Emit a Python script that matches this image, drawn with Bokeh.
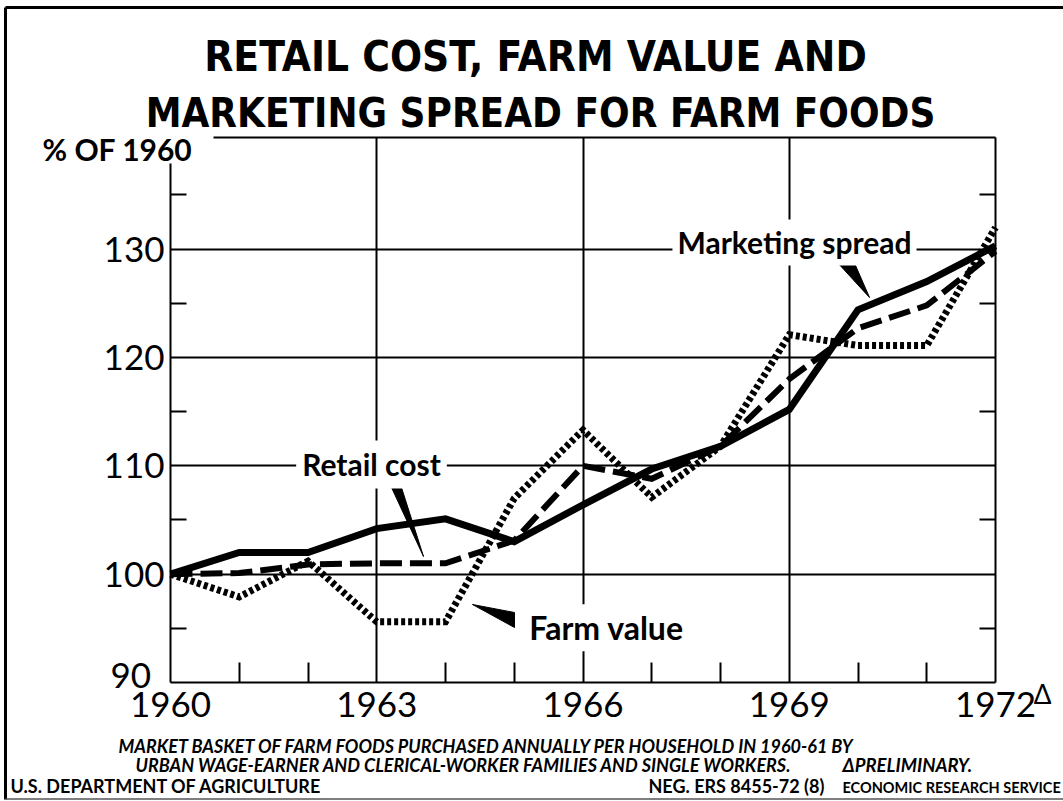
from bokeh.plotting import figure
from bokeh.models import Label, FixedTicker, LinearAxis, Range1d
from bokeh.embed import file_html
from bokeh.resources import INLINE

# ---- data ----
years = [1960, 1961, 1962, 1963, 1964, 1965, 1966, 1967, 1968, 1969, 1970, 1971, 1972]
marketing_spread = [100, 102, 102, 104.2, 105.1, 103, 106.4, 109.7, 111.8, 115.2, 124.4, 127, 130.3]
retail_cost = [100, 100.1, 100.9, 101, 101, 103.1, 110, 108.8, 111.8, 118, 122.7, 124.8, 129.8]
farm_value = [100, 97.9, 101.2, 95.6, 95.6, 107, 113.3, 107.1, 111.8, 122.1, 121.1, 121.1, 132]

x_major = [1960, 1963, 1966, 1969, 1972]
x_minor = [1961, 1962, 1964, 1965, 1967, 1968, 1970, 1971]
y_major = [90, 100, 110, 120, 130]
y_minor = [95, 105, 115, 125, 135]
x_grid = [1963, 1966, 1969]
y_grid = [100, 110, 120, 130]
X_MIN, X_MAX = 1960, 1972
Y_MIN, Y_MAX = 90, 140.3

W, H = 1063, 801
# pixel position of the chart box inside the canvas
PX_L, PX_R, PY_B, PY_T = 170, 995, 682, 137
SX = (PX_R - PX_L) / (X_MAX - X_MIN)
SY = (PY_B - PY_T) / (Y_MAX - Y_MIN)
x_start = X_MIN - PX_L / SX
y_start = Y_MIN - (H - PY_B) / SY

def X(px):
    return x_start + px / SX

def Y(py):
    return y_start + (H - py) / SY

p = figure(width=W, height=H,
           x_range=Range1d(x_start, x_start + W / SX),
           y_range=Range1d(y_start, y_start + H / SY),
           output_backend="svg", toolbar_location=None,
           min_border=0, min_border_left=0, min_border_right=0,
           min_border_top=0, min_border_bottom=0)
p.title.visible = False
p.background_fill_color = "white"
p.border_fill_color = "white"
p.outline_line_color = None

LBL_FONT = "Lato"

# grids
p.xgrid.ticker = FixedTicker(ticks=x_grid)
p.ygrid.ticker = FixedTicker(ticks=y_grid)
for g in (p.xgrid[0], p.ygrid[0]):
    g.grid_line_color = "black"
    g.grid_line_width = 2
try:
    p.xgrid[0].cross_bounds = (Y_MIN, Y_MAX)
    p.ygrid[0].cross_bounds = (X_MIN, X_MAX)
except Exception:
    p.xgrid[0].visible = False
    p.ygrid[0].visible = False
    p.segment(x0=x_grid, y0=[Y_MIN] * len(x_grid), x1=x_grid, y1=[Y_MAX] * len(x_grid),
              line_color="black", line_width=2)
    p.segment(x0=[X_MIN] * len(y_grid), y0=y_grid, x1=[X_MAX] * len(y_grid), y1=y_grid,
              line_color="black", line_width=2)

# axes
xa = p.xaxis[0]
xa.ticker = FixedTicker(ticks=x_major, minor_ticks=x_minor)
xa.fixed_location = Y_MIN
xa.bounds = (X_MIN, X_MAX)
ya = p.yaxis[0]
ya.ticker = FixedTicker(ticks=y_major, minor_ticks=y_minor)
ya.fixed_location = X_MIN
ya.bounds = (Y_MIN, Y(163))
ya.major_label_overrides = {90: ""}
for a in (xa, ya):
    a.axis_line_color = "black"
    a.axis_line_width = 2
    a.major_tick_in = 0
    a.major_tick_out = 0
    a.minor_tick_out = 0
    a.minor_tick_line_color = "black"
    a.minor_tick_line_width = 2
    a.major_label_text_font = LBL_FONT
    a.major_label_text_font_size = "35px"
    a.major_label_text_color = "black"
xa.minor_tick_in = 20
ya.minor_tick_in = 16
xa.major_label_standoff = 9
ya.major_label_standoff = 6

ra = LinearAxis(ticker=FixedTicker(ticks=y_major, minor_ticks=y_minor),
                fixed_location=X_MAX, bounds=(Y_MIN, Y_MAX))
ra.axis_line_color = "black"
ra.axis_line_width = 2
ra.major_tick_in = 0
ra.major_tick_out = 0
ra.minor_tick_in = 16
ra.minor_tick_out = 0
ra.minor_tick_line_width = 2
ra.major_label_text_color = None
p.add_layout(ra, "right")

ta = LinearAxis(ticker=FixedTicker(ticks=[]), fixed_location=Y_MAX, bounds=(X(213), X_MAX))
ta.axis_line_color = "black"
ta.axis_line_width = 2
ta.major_tick_in = 0
ta.major_tick_out = 0
ta.minor_tick_in = 0
ta.minor_tick_out = 0
ta.major_label_text_color = None
p.add_layout(ta, "above")

# outer frame of the sheet
p.segment(x0=[X(5), X(5)], y0=[Y(7), Y(7)], x1=[X(5), X(1063)], y1=[Y(799), Y(7)],
          line_color="black", line_width=3)
p.segment(x0=[X(5)], y0=[Y(798.5)], x1=[X(1063)], y1=[Y(798.5)],
          line_color="#555555", line_width=1.5)

# data lines
p.line(years, marketing_spread, line_color="black", line_width=7, line_join="miter")
p.line(years, retail_cost, line_color="black", line_width=6, line_dash="22 8", line_join="miter")
p.line(years, farm_value, line_color="black", line_width=7, line_dash="4 3", line_join="miter")

# pointers (wedges)
pointers = [
    [(836, 261), (852, 258), (869, 297)],
    [(391, 487), (400, 484), (423, 556)],
    [(472, 604), (514, 612), (514, 627)],
]
p.patches([[X(a) for a, b in tri] for tri in pointers],
          [[Y(b) for a, b in tri] for tri in pointers],
          fill_color="black", line_color="black", line_width=1)

def lab(text, px, py, size, align="left", style="bold", font=LBL_FONT, bg=None, pad=0):
    # py is the visual baseline in canvas pixels; compensate the renderer's baseline offset
    l = Label(x=X(px), y=Y(py - 0.37 * size), text=text, text_font=font,
              text_font_size=f"{size}px", text_font_style=style, text_color="black",
              text_align=align, text_baseline="alphabetic")
    if bg:
        l.background_fill_color = bg
        l.padding = pad
    p.add_layout(l)
    return l

# lowest y tick label, set slightly above its tick as in the original
lab("90", 110, 688, 35, style="normal")

# series labels
lab("Marketing spread", 794, 253, 30, align="center", bg="white", pad=5)
lab("Retail cost", 371, 475, 30, align="center", bg="white", pad=6)
lab("Farm value", 606, 639, 32, align="center", bg="white", pad=4)

# y title
lab("% OF 1960", 42, 160, 30)

# superscript triangle
lab("\u0394", 1042, 703, 26, align="center", style="normal")

# main title
TITLE_FONT = "'DejaVu Sans Condensed', Roboto"
lab("RETAIL COST, FARM VALUE AND", 535, 72, 42, align="center", font=TITLE_FONT)
lab("MARKETING SPREAD FOR FARM FOODS", 540, 127, 40, align="center", font=TITLE_FONT)

# footnotes
lab("MARKET BASKET OF FARM FOODS PURCHASED ANNUALLY PER HOUSEHOLD IN 1960-61 BY", 118, 752, 18, style="bold italic")
lab("URBAN WAGE-EARNER AND CLERICAL-WORKER FAMILIES AND SINGLE WORKERS.", 135, 771, 18, style="bold italic")
lab("\u0394PRELIMINARY.", 842, 771, 18.5, style="bold italic")
lab("U.S. DEPARTMENT OF AGRICULTURE", 10, 792, 18)
lab("NEG. ERS 8455-72 (8)", 648, 792, 18)
lab("ECONOMIC RESEARCH SERVICE", 842, 792, 14.5)

open("out.html", "w").write(file_html(p, INLINE))
